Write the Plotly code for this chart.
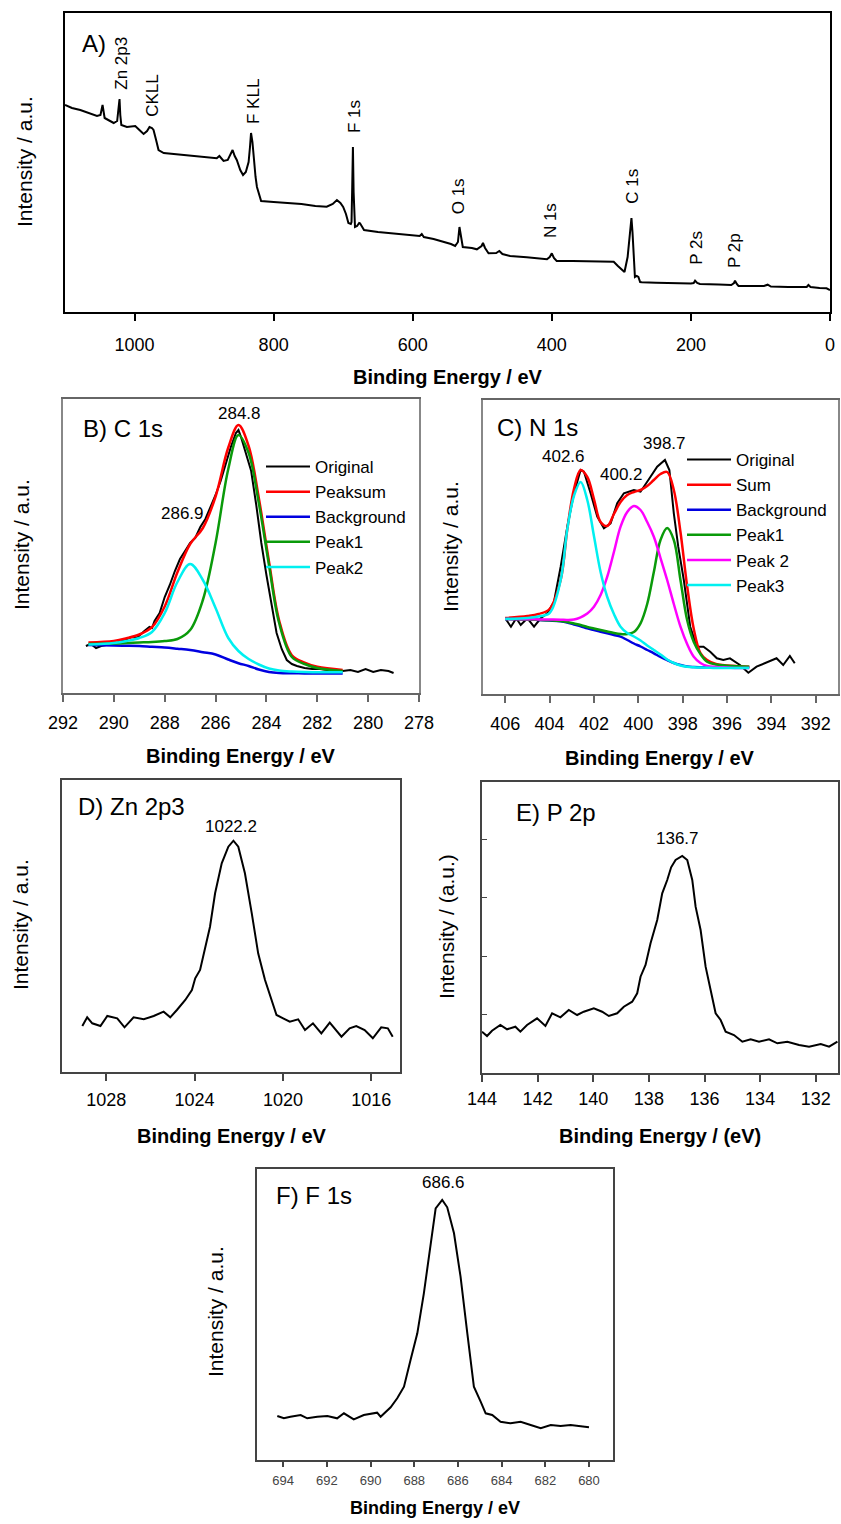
import plotly.graph_objects as go

W, H = 841, 1524
FONT = "Liberation Sans, Arial, sans-serif"

# ---------------- data ----------------
# A) survey spectrum
SURVEY_EV = [1100, 1090, 1078, 1066, 1054, 1049, 1046, 1043, 1036, 1030, 1025, 1022.5, 1021.6,
             1020.5, 1019, 1011, 1003, 999, 993, 987, 982, 978.5, 975, 972.7, 969, 965.5, 958,
             945, 930, 915, 900, 890, 881.8, 878, 872, 866, 862, 859, 856, 853, 848, 844, 840,
             836, 834, 832.5, 830.5, 828, 826, 824, 820, 818, 800, 780, 760, 740, 723.7, 715,
             709, 704, 700, 696, 692.5, 689, 688, 687, 686, 685, 684, 683, 680, 677, 675.8,
             672, 670, 650, 628, 600, 590, 587, 584, 570, 556, 545, 539, 535, 532.8, 530, 528,
             515, 507.8, 501, 499, 496, 491, 480, 475.5, 471, 460, 436, 420, 407, 403, 400,
             397, 393, 370, 340, 321, 311, 305, 299, 295.5, 291, 288, 285.5, 284, 282, 280.5,
             278, 275.5, 273, 270.5, 250, 225, 210, 200, 196, 194, 191, 187, 160, 142, 138,
             136.6, 134, 131.6, 110, 95, 89.6, 85, 60, 40, 33.5, 31, 28, 15, 5, 0]
SURVEY_INT = [207, 204, 202, 199, 196, 197, 207, 194, 191, 189, 191, 205, 213,
              197, 187, 185, 186, 186, 182, 178, 181, 185, 184, 182, 172, 162, 159,
              158, 157, 156, 155, 154, 153.7, 156, 151, 152, 158, 162, 156, 152, 142, 137, 140,
              150, 165, 179, 170, 149, 135, 125, 114, 111, 110, 109, 108, 106, 105.3, 108,
              112, 109, 105, 98, 89, 88, 90, 125, 165, 120, 86, 85, 86, 89, 88.7,
              84, 82, 80, 78.7, 77, 76, 78, 75, 73, 70.3, 68, 66, 70, 85, 70, 65,
              64, 62.7, 66, 69, 64, 58.7, 59, 61, 58, 56, 54.7, 54, 52.7, 55, 58.7,
              54, 51, 51, 50.5, 50.3, 50.3, 46, 42, 40, 55, 80, 94, 80, 45, 35,
              36, 35, 30, 29.7, 29.3, 28.7, 29, 28.5, 29, 31.3, 29, 28, 27.5, 27, 29,
              31.3, 28, 26, 26, 26, 27.3, 25.5, 25, 24.7, 25, 27, 25, 24, 23.7, 22]
SURVEY_LABELS = ["Zn 2p3", "CKLL", "F KLL", "F 1s", "O 1s", "N 1s", "C 1s", "P 2s", "P 2p"]
SURVEY_LABEL_EV = [1018.4, 973.8, 828.2, 683, 533, 401, 283.7, 191.7, 136.6]
SURVEY_LABEL_Y = [249, 217, 210, 195, 116, 91, 126, 64, 61]

# B) C 1s
C1S_EV = [291.1, 290.9, 290.7, 290.5, 290.3, 290.1, 289.9, 289.7, 289.5, 289.3, 289.1, 288.9,
          288.8, 288.6, 288.5, 288.4, 288.2, 288.0, 287.8, 287.6, 287.4, 287.2, 287.0, 286.8,
          286.6, 286.4, 286.2, 286.0, 285.8, 285.6, 285.4, 285.2, 285.1, 285.0, 284.8, 284.6,
          284.4, 284.2, 284.0, 283.8, 283.6, 283.4, 283.2, 283.0, 282.8, 282.5, 282.2, 281.9,
          281.6, 281.3, 281.0, 280.7, 280.4, 280.1, 279.8, 279.5, 279.2, 279.0]
C1S_ORIG = [47, 49, 45, 47, 48, 49, 50, 52, 54, 56, 55, 60,
            62, 66, 65, 72, 80, 96, 108, 122, 134, 142, 150, 155,
            166, 174, 186, 198, 212, 230, 246, 260, 263, 256, 240, 222,
            188, 150, 118, 88, 60, 44, 33, 29, 27, 25, 24, 24,
            23, 22, 22, 23, 21, 24, 21, 23, 22, 20]
C1S_FIT_EV = [291, 290, 289.5, 289, 288.5, 288, 287.5, 287, 286.5, 286, 285.5, 285.1, 284.7,
              284.3, 283.9, 283.5, 283, 282.5, 282, 281]
C1S_SUM = [50.5, 52, 54.7, 58.5, 65.8, 86.5, 120.7, 149, 165, 196.5, 245.5, 268, 247,
           195, 131.5, 72.5, 37.8, 30.4, 26.2, 23.1]
C1S_BG = [48, 47.5, 47.3, 47, 46.2, 45.5, 44.3, 43, 40.8, 38.5, 33.5, 29.8, 27,
          23.5, 21, 20, 19.7, 19.6, 19.6, 19.6]
C1S_PEAK1 = [49, 49.5, 50, 50.5, 51, 52, 54, 63, 93, 150, 224, 258, 240,
             190, 128, 70, 36, 29, 25, 22]
C1S_PEAK2 = [48.5, 50, 52, 55, 61, 80, 111, 129, 113, 85, 55, 42, 34,
             28.5, 24.5, 22.5, 21.5, 21, 20.8, 20.7]

# C) N 1s
N1S_EV = [405.97, 405.74, 405.5, 405.3, 405.0, 404.7, 404.4, 404.1, 403.8, 403.5, 403.2, 402.9,
          402.6, 402.45, 402.15, 401.85, 401.55, 401.25, 400.95, 400.65, 400.2, 399.9, 399.45,
          399.15, 398.8, 398.6, 398.4, 398.2, 397.95, 397.66, 397.36, 397.06, 396.76, 396.46,
          396.17, 395.87, 395.42, 395.04, 394.67, 394.22, 393.77, 393.47, 393.17, 392.95]
N1S_ORIG = [74.7, 67.3, 75.7, 69, 75.7, 67.3, 75.7, 80.7, 92.3, 127.3, 167.3, 200.7,
            224, 222.3, 200.7, 177.3, 165.7, 170.7, 190.7, 200.7, 204, 202.3, 217.3,
            227.3, 234, 224, 180.7, 147.3, 114, 67.3, 47.3, 47.3, 42.3, 35.7,
            34, 35.7, 29, 21.3, 27.3, 31.3, 35.7, 29, 38, 30.7]
N1S_FIT_EV = [406, 405, 404.5, 404, 403.5, 403.2, 402.9, 402.6, 402.3, 402, 401.7, 401.4, 401.1,
              400.8, 400.5, 400.2, 399.9, 399.6, 399.3, 399, 398.7, 398.4, 398.1, 397.8, 397.5,
              397.2, 396.9, 396.5, 396, 395.5, 395]
N1S_SUM = [76, 78, 80, 85, 114, 165, 205, 224, 217, 195, 172, 168, 180,
           192, 199, 202, 204, 208, 214, 220, 222, 204, 162, 108, 65,
           41, 34, 30, 28.5, 27.8, 27.3]
N1S_BG = [75, 74.5, 74, 73.5, 72.8, 71.5, 69.5, 67.8, 65.7, 64, 62.3, 60.7, 59,
          57.3, 54, 50.5, 47.5, 44, 40.7, 37, 34, 31, 29, 27.5, 27,
          26.8, 26.7, 26.7, 26.7, 26.7, 26.7]
N1S_PEAK1 = [75, 74.5, 74.2, 73.8, 73, 72, 70.5, 69, 67, 65.5, 64, 62.5, 61,
             60, 60, 62, 70.7, 90, 122, 154, 166, 154, 114, 74, 52,
             40, 32.3, 29.5, 28.3, 27.7, 27.3]
N1S_PEAK2 = [75, 74.8, 74.6, 74.5, 74.3, 74.1, 74.5, 76.7, 80.5, 87.3, 99, 117.3, 142,
             167.3, 182, 188, 184, 172, 157.3, 136, 114, 90, 67.3, 50, 37.3,
             31, 28, 27, 26.5, 26, 26]
N1S_PEAK3 = [75, 76, 77.5, 81, 114, 165, 198, 212, 194, 158, 122, 97, 80,
             67.3, 61, 57.5, 53.5, 48.5, 44, 39.5, 34.5, 31, 28.5, 27.3, 26.8,
             26.5, 26.3, 26, 26, 26, 26]

# D) Zn 2p3
ZN_EV = [1029.08, 1028.86, 1028.63, 1028.26, 1027.95, 1027.5, 1027.17, 1026.76, 1026.3, 1025.85,
         1025.4, 1025.1, 1024.8, 1024.42, 1024.12, 1023.97, 1023.75, 1023.52, 1023.3, 1023.07,
         1022.77, 1022.47, 1022.24, 1022.02, 1021.72, 1021.41, 1021.12, 1020.81, 1020.51,
         1020.29, 1019.99, 1019.69, 1019.31, 1019.0, 1018.64, 1018.26, 1017.88, 1017.35,
         1016.98, 1016.68, 1016.3, 1015.93, 1015.55, 1015.25, 1015.03]
ZN_INT = [46, 54.7, 48.7, 46, 56, 53.7, 44.7, 54.7, 52.7, 56,
          60.3, 54.7, 62, 72, 82, 93.7, 102, 125.3, 145.3, 178.7,
          208.7, 225.3, 231.3, 225.3, 198.7, 158.7, 118.7, 92, 72,
          57, 53.7, 50.3, 52.7, 42, 48.7, 38.7, 49.3, 35.3,
          43.7, 46, 42, 33.7, 44.7, 43.7, 35.3]

# E) P 2p
P2P_EV = [144.0, 143.82, 143.64, 143.34, 143.1, 142.8, 142.62, 142.38, 142.02, 141.72, 141.48,
          141.18, 140.88, 140.58, 140.34, 139.98, 139.68, 139.44, 139.14, 138.9, 138.6, 138.42,
          138.3, 138.12, 137.94, 137.7, 137.52, 137.34, 137.2, 137.04, 136.8, 136.62, 136.44,
          136.32, 136.14, 135.96, 135.78, 135.6, 135.42, 135.24, 134.94, 134.64, 134.34, 134.04,
          133.68, 133.38, 133.02, 132.6, 132.24, 131.82, 131.52, 131.22]
P2P_INT = [41.3, 37, 42.3, 48, 43.7, 46.3, 41.3, 48, 54.7, 47, 59.7,
           55.7, 63, 58, 61.3, 64.7, 61.3, 57, 59.7, 66.3, 71.3, 79.7,
           96.3, 108, 129.7, 153, 179.7, 193, 205.7, 213, 217, 213, 193,
           166.3, 143, 106.3, 83, 59.7, 53, 41.3, 38, 31.3, 33.7, 31.3,
           33.7, 29.7, 31.3, 28, 26.3, 29, 26.3, 31.3]

# F) F 1s
F1S_EV = [694.27, 693.97, 693.67, 693.2, 692.9, 692.44, 691.98, 691.53, 691.22, 690.77, 690.31,
          689.7, 689.54, 689.08, 688.78, 688.47, 688.17, 687.86, 687.56, 687.25, 687.02, 686.72,
          686.49, 686.18, 685.88, 685.57, 685.27, 684.96, 684.73, 684.43, 684.05, 683.59,
          683.13, 682.67, 682.21, 681.75, 681.3, 680.84, 680.38, 680.0]
F1S_INT = [44, 41.7, 43.3, 45, 41.7, 43.3, 44, 41.7, 46.7, 40.7, 45,
           47.3, 43.3, 52.7, 61.7, 73.3, 100, 126.7, 166.7, 213.3, 251.7, 260,
           252.7, 226.7, 183.3, 126.7, 73.3, 58.3, 46.7, 45, 38.3, 36.7,
           38.3, 35, 31.7, 35, 34, 35, 34, 32.7]


def px_x(p):
    return p / W


def px_y(p):
    return 1 - p / H


# panel boxes in pixels: left, right, top, bottom
BOX = {
    "A": (65, 830, 13, 312),
    "B": (63, 419, 399, 693),
    "C": (483, 838, 400, 694),
    "D": (62, 400, 780, 1072),
    "E": (482, 838, 782, 1073),
    "F": (257, 613, 1169, 1460),
}


def xaxis(box, rng, dtick, color, size=18, ticklen=7, standoff=6, tickcolor="black"):
    l, r, t, b = box
    return dict(domain=[px_x(l), px_x(r)], range=rng, dtick=dtick, tick0=0,
                ticks="outside", ticklen=ticklen, tickwidth=1.5, tickcolor=color,
                showline=True, linecolor=color, linewidth=1.5, mirror=True,
                showgrid=False, zeroline=False, ticklabelstandoff=standoff, automargin=False,
                tickfont=dict(family=FONT, size=size, color=tickcolor))


def yaxis(box, height, color, **kw):
    l, r, t, b = box
    d = dict(domain=[px_y(b), px_y(t)], range=[0, height], showticklabels=False,
             ticks="", showline=True, linecolor=color, linewidth=1.5, mirror=True,
             showgrid=False, zeroline=False, automargin=False)
    d.update(kw)
    return d


fig = go.Figure()

BLACK_LINE = dict(color="black", width=2)

# A
fig.add_trace(go.Scatter(x=SURVEY_EV, y=SURVEY_INT, mode="lines", line=BLACK_LINE,
                         showlegend=False, xaxis="x", yaxis="y"))

# B
fig.add_trace(go.Scatter(x=C1S_EV, y=C1S_ORIG, mode="lines", name="Original",
                         line=dict(color="black", width=2), xaxis="x2", yaxis="y2", legend="legend"))
fig.add_trace(go.Scatter(x=C1S_FIT_EV, y=C1S_SUM, mode="lines", name="Peaksum", line_shape="spline",
                         line=dict(color="#ff0000", width=2.5), xaxis="x2", yaxis="y2", legend="legend"))
fig.add_trace(go.Scatter(x=C1S_FIT_EV, y=C1S_BG, mode="lines", name="Background", line_shape="spline",
                         line=dict(color="#0000e0", width=2.5), xaxis="x2", yaxis="y2", legend="legend"))
fig.add_trace(go.Scatter(x=C1S_FIT_EV, y=C1S_PEAK1, mode="lines", name="Peak1", line_shape="spline",
                         line=dict(color="#0a9a0a", width=2.5), xaxis="x2", yaxis="y2", legend="legend"))
fig.add_trace(go.Scatter(x=C1S_FIT_EV, y=C1S_PEAK2, mode="lines", name="Peak2", line_shape="spline",
                         line=dict(color="#00f0f0", width=2.5), xaxis="x2", yaxis="y2", legend="legend"))

# C
fig.add_trace(go.Scatter(x=N1S_EV, y=N1S_ORIG, mode="lines", name="Original",
                         line=dict(color="black", width=2), xaxis="x3", yaxis="y3", legend="legend2"))
fig.add_trace(go.Scatter(x=N1S_FIT_EV, y=N1S_SUM, mode="lines", name="Sum", line_shape="spline",
                         line=dict(color="#ff0000", width=2.5), xaxis="x3", yaxis="y3", legend="legend2"))
fig.add_trace(go.Scatter(x=N1S_FIT_EV, y=N1S_BG, mode="lines", name="Background", line_shape="spline",
                         line=dict(color="#0000e0", width=2.5), xaxis="x3", yaxis="y3", legend="legend2"))
fig.add_trace(go.Scatter(x=N1S_FIT_EV, y=N1S_PEAK1, mode="lines", name="Peak1", line_shape="spline",
                         line=dict(color="#0a9a0a", width=2.5), xaxis="x3", yaxis="y3", legend="legend2"))
fig.add_trace(go.Scatter(x=N1S_FIT_EV, y=N1S_PEAK2, mode="lines", name="Peak 2", line_shape="spline",
                         line=dict(color="#ff00ff", width=2.5), xaxis="x3", yaxis="y3", legend="legend2"))
fig.add_trace(go.Scatter(x=N1S_FIT_EV, y=N1S_PEAK3, mode="lines", name="Peak3", line_shape="spline",
                         line=dict(color="#00f0f0", width=2.5), xaxis="x3", yaxis="y3", legend="legend2"))

# D, E, F
fig.add_trace(go.Scatter(x=ZN_EV, y=ZN_INT, mode="lines", line=BLACK_LINE,
                         showlegend=False, xaxis="x4", yaxis="y4"))
fig.add_trace(go.Scatter(x=P2P_EV, y=P2P_INT, mode="lines", line=BLACK_LINE,
                         showlegend=False, xaxis="x5", yaxis="y5"))
fig.add_trace(go.Scatter(x=F1S_EV, y=F1S_INT, mode="lines", line=BLACK_LINE,
                         showlegend=False, xaxis="x6", yaxis="y6"))

ann = []


def text(x, y, s, size, bold=False, angle=0, xanchor="center", xref="paper", yref="paper", color="black"):
    ann.append(dict(x=x, y=y, xref=xref, yref=yref, text=f"<b>{s}</b>" if bold else s,
                    showarrow=False, textangle=angle, xanchor=xanchor, yanchor="middle",
                    font=dict(family=FONT, size=size, color=color)))


# survey peak labels (rotated)
for lab, ev, yy in zip(SURVEY_LABELS, SURVEY_LABEL_EV, SURVEY_LABEL_Y):
    text(ev, yy, lab, 17, angle=-90, xref="x", yref="y")

# panel labels
text(px_x(80), px_y(43), "A)", 24, xanchor="left")
text(px_x(81), px_y(428), "B) C 1s", 24, xanchor="left")
text(px_x(495), px_y(427), "C) N 1s", 24, xanchor="left")
text(px_x(76), px_y(807), "D) Zn 2p3", 24, xanchor="left")
text(px_x(514), px_y(812), "E) P 2p", 24, xanchor="left")
text(px_x(274), px_y(1195), "F) F 1s", 24, xanchor="left")

# peak position labels
text(px_x(239), px_y(413), "284.8", 17)
text(px_x(182), px_y(513), "286.9", 17)
text(px_x(563), px_y(456), "402.6", 17)
text(px_x(621), px_y(474), "400.2", 17)
text(px_x(664), px_y(443), "398.7", 17)
text(px_x(231), px_y(826), "1022.2", 17)
text(px_x(677), px_y(838), "136.7", 17)
text(px_x(443), px_y(1182), "686.6", 17)

# axis titles
text(px_x(448), px_y(377), "Binding Energy / eV", 20, bold=True)
text(px_x(241), px_y(756), "Binding Energy / eV", 20, bold=True)
text(px_x(660), px_y(758), "Binding Energy / eV", 20, bold=True)
text(px_x(232), px_y(1136), "Binding Energy / eV", 20, bold=True)
text(px_x(660), px_y(1136), "Binding Energy / (eV)", 20, bold=True)
text(px_x(435), px_y(1508), "Binding Energy / eV", 18, bold=True)

text(px_x(24), px_y(162), "Intensity / a.u.", 21, angle=-90)
text(px_x(22), px_y(545), "Intensity / a.u.", 21, angle=-90)
text(px_x(450), px_y(547), "Intensity / a.u.", 21, angle=-90)
text(px_x(20), px_y(925), "Intensity / a.u.", 21, angle=-90)
text(px_x(446), px_y(927), "Intensity / (a.u.)", 21, angle=-90)
text(px_x(215), px_y(1312), "Intensity / a.u.", 21, angle=-90)

A, B, C, D, E, F = (BOX[k] for k in "ABCDEF")

LEG = dict(xanchor="left", yanchor="top", font=dict(family=FONT, size=17),
           bgcolor="rgba(0,0,0,0)", tracegroupgap=0, itemwidth=44)

fig.update_layout(
    template="none",
    width=W, height=H, margin=dict(l=0, r=0, t=0, b=0, pad=0), autosize=False,
    paper_bgcolor="white", plot_bgcolor="white",
    font=dict(family=FONT, color="black"),
    xaxis=xaxis(A, [1100, 0], 200, "black", ticklen=7, standoff=9),
    yaxis=yaxis(A, A[3] - A[2], "black", anchor="x"),
    xaxis2=xaxis(B, [292, 278], 2, "#666666"),
    yaxis2=yaxis(B, B[3] - B[2], "#888888", anchor="x2"),
    xaxis3=xaxis(C, [407, 391], 2, "#666666"),
    yaxis3=yaxis(C, C[3] - C[2], "#888888", anchor="x3"),
    xaxis4=xaxis(D, [1030, 1014.7], 4, "#444444", standoff=4),
    yaxis4=yaxis(D, D[3] - D[2], "#444444", anchor="x4"),
    xaxis5=xaxis(E, [144, 131.2], 2, "#444444", standoff=2),
    yaxis5=yaxis(E, E[3] - E[2], "#444444", anchor="x5", ticks="inside", ticklen=5,
                 tickcolor="#444444", tickvals=[59, 117, 176, 234]),
    xaxis6=xaxis(F, [695.2, 678.9], 2, "#444444", size=13, ticklen=5, standoff=3, tickcolor="#444444"),
    yaxis6=yaxis(F, F[3] - F[2], "#444444", anchor="x6"),
    legend=dict(x=px_x(261), y=px_y(449), **LEG),
    legend2=dict(x=px_x(682), y=px_y(442), **LEG),
    annotations=ann,
)
fig.update_layout(xaxis2_anchor="y2", xaxis3_anchor="y3", xaxis4_anchor="y4",
                  xaxis5_anchor="y5", xaxis6_anchor="y6", xaxis_anchor="y")

# drop the page's default body margin so the figure sits at the window's corner
fig.write_html("out.html", config={"displayModeBar": False},
               post_script="document.body.style.margin='0';document.body.style.overflow='hidden';")
